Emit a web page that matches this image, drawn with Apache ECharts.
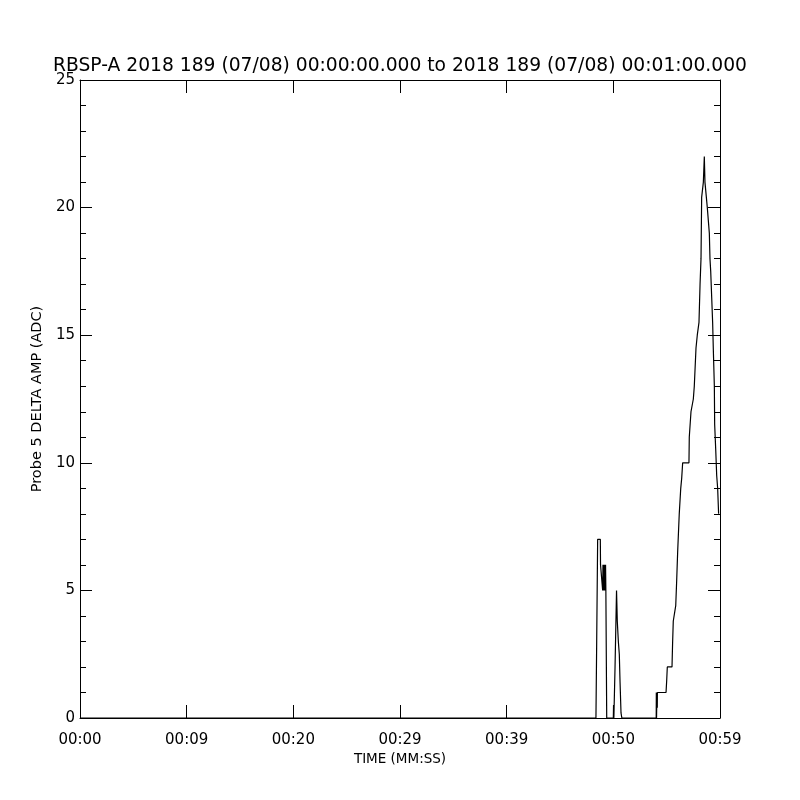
<!DOCTYPE html>
<html>
<head>
<meta charset="utf-8">
<script src="https://cdn.jsdelivr.net/npm/echarts@6/dist/echarts.min.js"></script>
<style>html,body{margin:0;padding:0;background:#fff}#c{width:800px;height:800px}</style>
</head>
<body>
<div id="c"></div>
<script>
// Time (seconds from 00:00:00) and Probe 5 DELTA AMP values
var timeSec = [0, 48.37, 48.44, 48.53, 48.78, 48.80, 48.97, 49.00, 49.03, 49.06, 49.09, 49.12, 49.15, 49.18, 49.21, 49.24, 49.27, 49.30, 49.36, 49.38,
  50.00, 50.02, 50.05, 50.09, 50.16, 50.30, 50.33, 50.37, 50.47, 50.56, 50.63, 50.72, 50.80,
  54.02, 54.03, 54.05, 54.08, 54.09, 54.12, 54.13, 54.94, 55.00, 55.06, 55.50, 55.56, 55.62, 55.85, 55.94, 56.03, 56.18, 56.32, 56.41, 56.50,
  57.09, 57.12, 57.28, 57.50, 57.59, 57.75, 57.87, 58.03, 58.13, 58.22, 58.28, 58.44, 58.53, 58.56, 58.59, 58.81, 59.00, 59.06, 59.13, 59.22,
  59.31, 59.37, 59.47, 59.50, 59.60, 59.69, 59.78, 59.87];
var ampADC = [0, 0, 3, 7, 7, 6, 6, 5, 6, 5, 6, 5, 6, 5, 6, 5, 6, 5, 5, 0,
  0, 0.5, 0, 0, 2, 5, 4.5, 3.8, 3, 2.5, 1.4, 0.2, 0,
  0, 1, 0, 0, 1, 0.4, 1, 1, 1.45, 2, 2, 3, 3.8, 4.4, 5.4, 6.5, 8, 9, 9.4, 10,
  10, 11, 12, 12.5, 13, 14.5, 15, 15.5, 17, 18, 20.4, 21, 22, 21.5, 21, 20, 19, 18, 17.5, 16.5,
  15.5, 14.5, 13, 11.5, 10.5, 9.5, 9, 8];
var xTickLabels = ['00:00', '00:09', '00:20', '00:29', '00:39', '00:50', '00:59'];
var titleText = 'RBSP-A 2018 189 (07/08) 00:00:00.000 to 2018 189 (07/08) 00:01:00.000';

var pts = timeSec.map(function (t, i) { return [t, ampADC[i]]; });
var font = 'DejaVu Sans';
var chart = echarts.init(document.getElementById('c'), null, {renderer: 'canvas'});
chart.setOption({
  animation: false,
  backgroundColor: '#fff',
  title: {text: titleText, left: 'center', top: 52,
    textStyle: {fontFamily: font, fontSize: 18.7, fontWeight: 'normal', color: '#000'}},
  grid: {left: 80, right: 80, top: 80, bottom: 82},
  xAxis: [{
    type: 'value', min: 0, max: 60, interval: 10, position: 'bottom',
    name: 'TIME (MM:SS)', nameLocation: 'middle', nameGap: 33,
    nameTextStyle: {fontFamily: font, fontSize: 13.5, color: '#000'},
    axisLine: {show: true, onZero: false, lineStyle: {color: '#000', width: 1}},
    axisTick: {show: true, inside: true, length: 13, lineStyle: {color: '#000'}},
    axisLabel: {margin: 15, fontFamily: font, fontSize: 15, color: '#000',
      formatter: function (v) { return xTickLabels[Math.round(v / 10)]; }},
    splitLine: {show: false}
  }, {
    type: 'value', min: 0, max: 60, interval: 10, position: 'top',
    axisLine: {show: true, onZero: false, lineStyle: {color: '#000', width: 1}},
    axisTick: {show: true, inside: true, length: 13, lineStyle: {color: '#000'}},
    axisLabel: {show: false}, splitLine: {show: false}
  }],
  yAxis: [{
    type: 'value', min: 0, max: 25, interval: 5, position: 'left',
    name: 'Probe 5 DELTA AMP (ADC)', nameLocation: 'middle', nameGap: 27, nameRotate: 90,
    nameTextStyle: {fontFamily: font, fontSize: 14.5, color: '#000'},
    axisLine: {show: true, onZero: false, lineStyle: {color: '#000', width: 1}},
    axisTick: {show: true, inside: true, length: 12, lineStyle: {color: '#000'}},
    minorTick: {show: true, splitNumber: 5, length: 6, lineStyle: {color: '#000'}},
    axisLabel: {margin: 5, fontFamily: font, fontSize: 15, color: '#000'},
    splitLine: {show: false}
  }, {
    type: 'value', min: 0, max: 25, interval: 5, position: 'right',
    axisLine: {show: true, onZero: false, lineStyle: {color: '#000', width: 1}},
    axisTick: {show: true, inside: true, length: 12, lineStyle: {color: '#000'}},
    minorTick: {show: true, splitNumber: 5, length: 6, lineStyle: {color: '#000'}},
    axisLabel: {show: false}, splitLine: {show: false}
  }],
  series: [{
    type: 'line', xAxisIndex: 0, yAxisIndex: 0, data: pts,
    showSymbol: false, symbol: 'none',
    lineStyle: {color: '#000', width: 1.2}
  }]
});
</script>
</body>
</html>
